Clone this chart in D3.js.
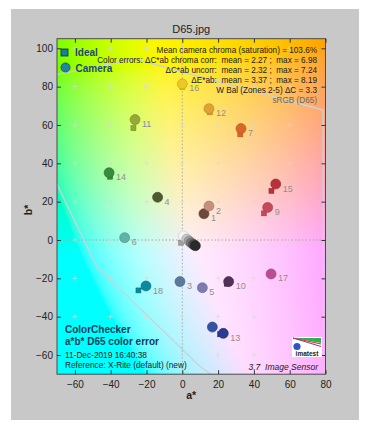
<!DOCTYPE html>
<html><head><meta charset="utf-8">
<script src="https://cdn.jsdelivr.net/npm/d3@7"></script>
<style>body{margin:0;background:#fff;} svg{display:block;font-family:"Liberation Sans",Arial,sans-serif;}</style>
</head><body><svg id="c" width="366" height="430"></svg>
<script>
// ---- data ----
const patchIds = ["1","2","3","4","5","6","7","8","9","10","11","12","13","14","15","16","17","18","19","20","21","22","23","24"];
const cameraA = [12.1, 14.9, -1.3, -13.8, 11.2, -32.2, 32.8, 16.8, 47.7, 25.9, -26.4, 14.9, 22.9, -40.9, 52.2, 0.0, 49.6, -20.3, 0.6, 2.5, 3.8, 5.0, 6.3, 7.3];
const cameraB = [13.7, 17.7, -21.7, 22.3, -24.9, 1.2, 58.1, -45.4, 17.0, -21.7, 62.8, 68.5, -48.7, 35.1, 29.2, 81.4, -17.7, -24.0, 2.2, 0.5, -0.5, -1.5, -2.4, -3.0];
const idealA = [12.3, 14.9, -1.3, -13.8, 11.2, -32.2, 32.4, 16.8, 45.6, 24.8, -27.3, 15.5, 21.1, -40.3, 49.8, 0.0, 49.6, -24.5, 0.4, 2.0, -0.7, 2.5, 2.8, 3.2];
const idealB = [13.5, 17.7, -21.7, 22.3, -24.9, 1.2, 55.1, -45.4, 13.9, -22.8, 58.3, 66.6, -49.2, 33.0, 25.6, 79.7, -17.7, -26.3, 1.8, 0.6, -1.4, 0.2, 0.0, -0.2];
const patchColors = ["#6e4a3c","#c4927c","#5a7a9a","#4c5a30","#7e7cae","#62b2a8","#d8682a","#3452a4","#c44a5a","#523058","#94aa34","#e0a232","#2a3a92","#388c3c","#b8323a","#ecc824","#bc4c92","#0a8a9c","#f4f4f4","#c8c8c8","#a0a0a0","#7a7a7a","#505050","#2a2a2a"];
const labeledCount = 18;
const xTicks = [-60,-40,-20,0,20,40,60,80];
const yTicks = [-60,-40,-20,0,20,40,60,80,100];
const gamutTop = [[-72,86],[-26.4,94.4],[78.6,67.8],[79,-70]];
const gamutBottom = [[-71,31],[-47.8,-13.9],[9.9,-66],[19,-72]];
const statsLines = [
  "Mean camera chroma (saturation) = 103.6%",
  "Color errors: \u0394C*ab chroma corr:  mean = 2.27 ;  max = 6.98",
  "\u0394C*ab uncorr:  mean = 2.32 ;  max = 7.24",
  "\u0394E*ab:  mean = 3.37 ;  max = 8.19",
  "W Bal (Zones 2-5) \u0394C = 3.3",
  "sRGB (D65)"
];
const infoTitle = ["ColorChecker","a*b* D65 color error"];
const infoLines = ["11-Dec-2019 16:40:38","Reference: X-Rite (default) (new)"];

// ---- setup ----
const svg = d3.select("#c");
svg.append("rect").attr("x",11).attr("y",9).attr("width",348).attr("height",411).attr("fill","#c8c8c8");

const X0=57, X1=325.5, Y0=38.7, Y1=374.2;
const x = d3.scaleLinear().domain([-70,80]).range([X0,X1]);
const y = d3.scaleLinear().domain([-70,105]).range([Y1,Y0]);

// background a*b* colour field
const cw = Math.round(X1-X0), ch = Math.round(Y1-Y0);
const cv = document.createElement("canvas"); cv.width=cw; cv.height=ch;
const ctx = cv.getContext("2d");
const img = ctx.createImageData(cw,ch);
const L = 95;
for(let j=0;j<ch;j++){
  const b = y.invert(Y0+j+0.5);
  for(let i=0;i<cw;i++){
    const a = x.invert(X0+i+0.5);
    const c = d3.lab(L,a,b).rgb();
    const k=(j*cw+i)*4;
    img.data[k]=Math.max(0,Math.min(255,c.r));
    img.data[k+1]=Math.max(0,Math.min(255,c.g));
    img.data[k+2]=Math.max(0,Math.min(255,c.b));
    img.data[k+3]=255;
  }
}
ctx.putImageData(img,0,0);
svg.append("image").attr("x",X0).attr("y",Y0).attr("width",X1-X0).attr("height",Y1-Y0)
  .attr("preserveAspectRatio","none").attr("href",cv.toDataURL());

svg.append("clipPath").attr("id","clip").append("rect").attr("x",X0).attr("y",Y0).attr("width",X1-X0).attr("height",Y1-Y0);
const plot = svg.append("g").attr("clip-path","url(#clip)");

// gamut lines
const line = d3.line().x(d=>x(d[0])).y(d=>y(d[1]));
[gamutTop,gamutBottom].forEach(g=>{
  plot.append("path").attr("d",line(g)).attr("fill","none").attr("stroke","#c9d3d8").attr("stroke-width",1.3);
});

// dotted zero lines
plot.append("line").attr("x1",x(0)).attr("x2",x(0)).attr("y1",Y0).attr("y2",Y1).attr("stroke","#a8a8a8").attr("stroke-dasharray","1.5,2");
plot.append("line").attr("x1",X0).attr("x2",X1).attr("y1",y(0)).attr("y2",y(0)).attr("stroke","#a8a8a8").attr("stroke-dasharray","1.5,2");

// grid plus markers
xTicks.forEach(a=>yTicks.forEach(b=>{
  const px=x(a), py=y(b);
  plot.append("path").attr("d",`M${px-2.5},${py}H${px+2.5}M${px},${py-2.5}V${py+2.5}`)
    .attr("stroke","#d8d8d8").attr("stroke-opacity",0.6).attr("stroke-width",1);
}));

// labels first (so marks overlap)
const idx = d3.range(patchIds.length);
plot.selectAll("text.lab").data(idx.filter(i=>i<labeledCount)).join("text")
  .attr("x",i=>x(cameraA[i])+7).attr("y",i=>y(cameraB[i])+7.5)
  .attr("font-size",9).attr("fill","#8f8f8f").text(i=>patchIds[i]);

// connectors
plot.selectAll("line.con").data(idx).join("line")
  .attr("x1",i=>x(idealA[i])).attr("y1",i=>y(idealB[i])).attr("x2",i=>x(cameraA[i])).attr("y2",i=>y(cameraB[i]))
  .attr("stroke",i=>patchColors[i]).attr("stroke-width",1);
// ideal squares
const s=5;
plot.selectAll("rect.ideal").data(idx).join("rect")
  .attr("x",i=>x(idealA[i])-s/2).attr("y",i=>y(idealB[i])-s/2).attr("width",s).attr("height",s)
  .attr("fill",i=>patchColors[i]).attr("stroke",i=>d3.color(patchColors[i]).darker(0.8)).attr("stroke-width",0.5);
// camera circles
plot.selectAll("circle.cam").data(idx).join("circle")
  .attr("cx",i=>x(cameraA[i])).attr("cy",i=>y(cameraB[i])).attr("r",5)
  .attr("fill",i=>patchColors[i]).attr("stroke",i=>d3.color(patchColors[i]).darker(0.6)).attr("stroke-width",0.6);

// frame
svg.append("rect").attr("x",X0).attr("y",Y0).attr("width",X1-X0).attr("height",Y1-Y0)
  .attr("fill","none").attr("stroke","#4a4a4a").attr("stroke-width",1);

// axes
const ax = svg.append("g").attr("transform",`translate(0,${Y1})`).call(d3.axisBottom(x).tickValues(xTicks).tickSize(-4).tickPadding(7));
const axT = svg.append("g").attr("transform",`translate(0,${Y0})`).call(d3.axisTop(x).tickValues(xTicks).tickSize(-4).tickFormat(""));
const ay = svg.append("g").attr("transform",`translate(${X0},0)`).call(d3.axisLeft(y).tickValues(yTicks).tickSize(-4).tickPadding(4));
const ayR = svg.append("g").attr("transform",`translate(${X1},0)`).call(d3.axisRight(y).tickValues(yTicks).tickSize(-4).tickFormat(""));
[ax,axT,ay,ayR].forEach(g=>{
  g.select(".domain").remove();
  g.selectAll("line").attr("stroke","#333");
  g.selectAll("text").attr("font-size",10).attr("fill","#222").attr("font-family","Liberation Sans, Arial, sans-serif");
});

// axis titles & title
svg.append("text").attr("x",(X0+X1)/2).attr("y",399).attr("text-anchor","middle").attr("font-size",10.5).attr("font-weight","bold").attr("fill","#222").text("a*");
svg.append("text").attr("transform","translate(32,210) rotate(-90)").attr("text-anchor","middle").attr("font-size",10.5).attr("font-weight","bold").attr("fill","#222").text("b*");
svg.append("text").attr("x",(X0+X1)/2).attr("y",33).attr("text-anchor","middle").attr("font-size",11).attr("fill","#222").text("D65.jpg");

// legend
svg.append("rect").attr("x",61).attr("y",49).attr("width",7).attr("height",7).attr("fill","#17809e").attr("stroke","#0d3040").attr("stroke-width",0.8);
svg.append("circle").attr("cx",65.5).attr("cy",67.5).attr("r",4.6).attr("fill","#1d86a6").attr("stroke","#0d3c50").attr("stroke-width",0.6);
svg.append("text").attr("x",75).attr("y",56).attr("font-size",10).attr("font-weight","bold").attr("fill","#1c4a6e").text("Ideal");
svg.append("text").attr("x",75.5).attr("y",71.5).attr("font-size",10).attr("font-weight","bold").attr("fill","#1c4a6e").text("Camera");

// stats text
svg.selectAll("text.stat").data(statsLines).join("text")
  .attr("x",317).attr("y",(d,i)=>52.5+i*10).attr("text-anchor","end").attr("font-size",8.2)
  .attr("fill",(d,i)=>i===statsLines.length-1?"#666":"#1a1a1a").attr("xml:space","preserve").style("white-space","pre").text(d=>d);

// info block
svg.selectAll("text.it").data(infoTitle).join("text")
  .attr("x",65).attr("y",(d,i)=>333+i*12).attr("font-size",10).attr("font-weight","bold").attr("fill","#123a5a").text(d=>d);
svg.selectAll("text.il").data(infoLines).join("text")
  .attr("x",65).attr("y",(d,i)=>358+i*10).attr("font-size",8.3).attr("fill","#1a1a1a").text(d=>d);

// sensor label
svg.append("text").attr("x",318).attr("y",370).attr("text-anchor","end").attr("font-size",8.5).attr("font-style","italic").attr("fill","#222").attr("xml:space","preserve").style("white-space","pre").text("3.7  Image Sensor");

// imatest logo
const lg = svg.append("g").attr("transform","translate(292,337)");
lg.append("rect").attr("width",30).attr("height",20).attr("fill","#fff");
lg.append("path").attr("d","M1,1 L29,1 L29,6 Z").attr("fill","#2db34a");
lg.append("path").attr("d","M1,1 L29,7").attr("stroke","#e0303a").attr("stroke-width",1.2);
lg.append("path").attr("d","M1,1 L29,9.5").attr("stroke","#8a3aa0").attr("stroke-width",1);
lg.append("circle").attr("cx",5).attr("cy",9.5).attr("r",3.6).attr("fill","#2a56c8");
lg.append("text").attr("x",15).attr("y",18.5).attr("text-anchor","middle").attr("font-size",6.5).attr("font-weight","bold").attr("fill","#222").text("imatest");
</script></body></html>
